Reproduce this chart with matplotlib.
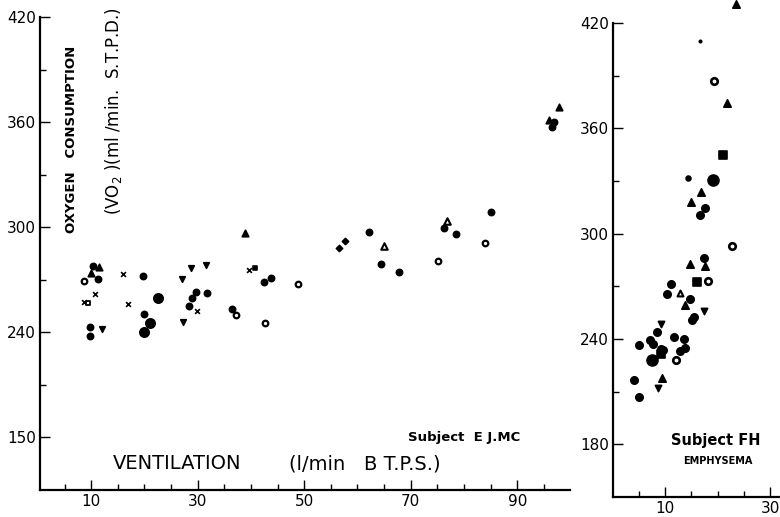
import matplotlib
matplotlib.use("Agg")
import matplotlib.pyplot as plt
from matplotlib.ticker import FixedLocator

# ---- Subject EJ.MC (left panel) ----
ej_dot_x = [10.3, 11.3, 9.7, 9.7, 19.8, 19.9, 28.3, 28.9, 29.7, 31.8, 42.4, 43.8,
            62.1, 67.8, 76.3, 78.5, 85.1, 96.9, 96.5, 64.5, 36.4]
ej_dot_y = [277.8, 270.2, 243.3, 238.0, 272.3, 250.5, 255.0, 259.6, 263.0, 262.3, 268.7, 270.8,
            297.2, 274.4, 299.3, 296.4, 308.8, 359.8, 357.2, 278.8, 253.1]
ej_big_x = [21.1, 20.0, 22.6]
ej_big_y = [245.6, 240.2, 259.6]
ej_small_x = [56.6, 57.7]
ej_small_y = [287.9, 292.0]
ej_ring_x = [8.7, 37.2, 42.7, 48.9, 75.2, 84.0]
ej_ring_y = [269.3, 249.7, 245.6, 267.4, 281.0, 291.1]
ej_tri_x = [9.9, 11.5, 38.9, 97.9, 95.9]
ej_tri_y = [273.6, 277.2, 296.8, 368.9, 361.3]
ej_otri_x = [64.9, 76.8]
ej_otri_y = [289.2, 303.8]
ej_dtri_x = [12.1, 27.0, 28.8, 31.6, 27.2]
ej_dtri_y = [241.9, 270.6, 276.5, 278.2, 246.1]
ej_cross_x = [8.6, 10.8, 15.9, 16.9, 29.8, 39.7]
ej_cross_y = [257.5, 261.7, 273.1, 256.0, 252.2, 275.5]
ej_osq_x = [9.4]
ej_osq_y = [256.9]
ej_sq_x = [40.7]
ej_sq_y = [276.5]

# ---- Subject FH, emphysema (right panel) ----
fh_dot_x = [17.4, 11.1, 10.4, 14.8, 15.5, 15.1, 8.5, 7.1, 5.1, 7.8, 9.2, 9.7, 11.7,
            13.6, 13.8, 12.9, 4.1, 5.0, 17.7, 16.7]
fh_dot_y = [286.4, 271.2, 265.9, 263.0, 252.5, 251.0, 243.9, 239.6, 236.3, 237.3, 234.5, 234.0, 241.2,
            239.9, 235.1, 233.2, 216.5, 207.2, 314.7, 310.5]
fh_big_x = [19.2, 7.5]
fh_big_y = [330.7, 227.9]
fh_small_x = [14.3]
fh_small_y = [331.5]
fh_ring_x = [19.3, 22.8, 18.1, 12.1]
fh_ring_y = [387.1, 292.9, 272.9, 228.1]
fh_tri_x = [23.5, 21.9, 16.9, 14.9, 14.8, 17.6, 13.8, 9.4]
fh_tri_y = [430.8, 374.6, 323.5, 317.8, 283.0, 281.6, 259.2, 217.6]
fh_otri_x = [12.9]
fh_otri_y = [266.2]
fh_dtri_x = [17.5, 9.2, 8.7]
fh_dtri_y = [256.0, 248.7, 212.3]
fh_sq_x = [21.1, 16.1, 9.2]
fh_sq_y = [344.7, 272.2, 231.6]
fh_speck_x = [16.7]
fh_speck_y = [409.6]

y_ticks = [180, 240, 300, 360, 420]
y_ticklabels_left = ["150", "240", "300", "360", "420"]
y_ticklabels_right = ["180", "240", "300", "360", "420"]
y_minor = [210, 270, 330, 390]
x_ticks_left = [10, 30, 50, 70, 90]
x_ticks_right = [10, 30]

fig = plt.figure(figsize=(7.8, 5.17), dpi=100)
axL = fig.add_axes([40 / 780, 27 / 517, 530 / 780, 473 / 517])
axR = fig.add_axes([613 / 780, 20 / 517, 167 / 780, 474 / 517])


def style(ax, xmax_minor, xt, ylabels):
    for s in ["top", "right"]:
        ax.spines[s].set_visible(False)
    ax.spines["left"].set_linewidth(1.6)
    ax.spines["bottom"].set_linewidth(1.6)
    ax.set_yticks(y_ticks)
    ax.set_yticklabels(ylabels)
    ax.yaxis.set_minor_locator(FixedLocator(y_minor))
    ax.set_xticks(xt)
    ax.set_xticklabels([str(v) for v in xt])
    ax.xaxis.set_minor_locator(FixedLocator([v for v in range(5, xmax_minor, 5) if v not in xt]))
    ax.tick_params(which="both", direction="in", width=1.0, labelsize=11, pad=3)
    ax.tick_params(which="major", length=7)
    ax.tick_params(which="minor", length=4)


def points(ax, x, y, **kw):
    ax.scatter(x, y, c="black", clip_on=False, linewidths=1.2, **kw)


axL.set_xlim(0.4, 99.9)
axL.set_ylim(150, 420)
style(axL, 100, x_ticks_left, y_ticklabels_left)
points(axL, ej_dot_x, ej_dot_y, s=20, marker="o")
points(axL, ej_big_x, ej_big_y, s=45, marker="o")
points(axL, ej_small_x, ej_small_y, s=10, marker="D")
axL.scatter(ej_ring_x, ej_ring_y, s=16, marker="o", facecolors="white", edgecolors="black", linewidths=1.6)
points(axL, ej_tri_x, ej_tri_y, s=22, marker="^")
axL.scatter(ej_otri_x, ej_otri_y, s=22, marker="^", facecolors="white", edgecolors="black", linewidths=1.5)
points(axL, ej_dtri_x, ej_dtri_y, s=16, marker="v")
points(axL, ej_cross_x, ej_cross_y, s=12, marker="x")
axL.scatter(ej_osq_x, ej_osq_y, s=12, marker="s", facecolors="white", edgecolors="black", linewidths=1.3)
points(axL, ej_sq_x, ej_sq_y, s=12, marker="s")

axL.text(0.060, 0.742, "OXYGEN   CONSUMPTION", transform=axL.transAxes, rotation=90,
         fontsize=9.5, fontweight="bold", ha="center", va="center")
axL.text(0.138, 0.80, "(VO$_2$ )(ml /min.  S.T.P.D.)", transform=axL.transAxes, rotation=90,
         fontsize=12, ha="center", va="center")
axL.text(0.138, 0.055, "VENTILATION", transform=axL.transAxes, fontsize=14, ha="left", va="center")
axL.text(0.47, 0.055, "(l/min   B T.P.S.)", transform=axL.transAxes, fontsize=14, ha="left", va="center")
axL.text(0.695, 0.112, "Subject  E J.MC", transform=axL.transAxes, fontsize=9.5,
         fontweight="bold", ha="left", va="center")

axR.set_xlim(0.1, 31.9)
axR.set_ylim(150, 420)
style(axR, 32, x_ticks_right, y_ticklabels_right)
points(axR, fh_dot_x, fh_dot_y, s=28, marker="o")
points(axR, fh_big_x, fh_big_y, s=62, marker="o")
points(axR, fh_small_x, fh_small_y, s=12, marker="o")
axR.scatter(fh_ring_x, fh_ring_y, s=22, marker="o", facecolors="white", edgecolors="black", linewidths=1.9)
points(axR, fh_tri_x, fh_tri_y, s=28, marker="^")
axR.scatter(fh_otri_x, fh_otri_y, s=18, marker="^", facecolors="white", edgecolors="black", linewidths=1.5)
points(axR, fh_dtri_x, fh_dtri_y, s=20, marker="v")
points(axR, fh_sq_x, fh_sq_y, s=28, marker="s")
points(axR, fh_speck_x, fh_speck_y, s=3, marker="o")

axR.text(0.35, 0.12, "Subject FH", transform=axR.transAxes, fontsize=10.5,
         fontweight="bold", ha="left", va="center")
axR.text(0.42, 0.075, "EMPHYSEMA", transform=axR.transAxes, fontsize=7,
         fontweight="bold", ha="left", va="center")

fig.savefig("out.png", dpi=100)
